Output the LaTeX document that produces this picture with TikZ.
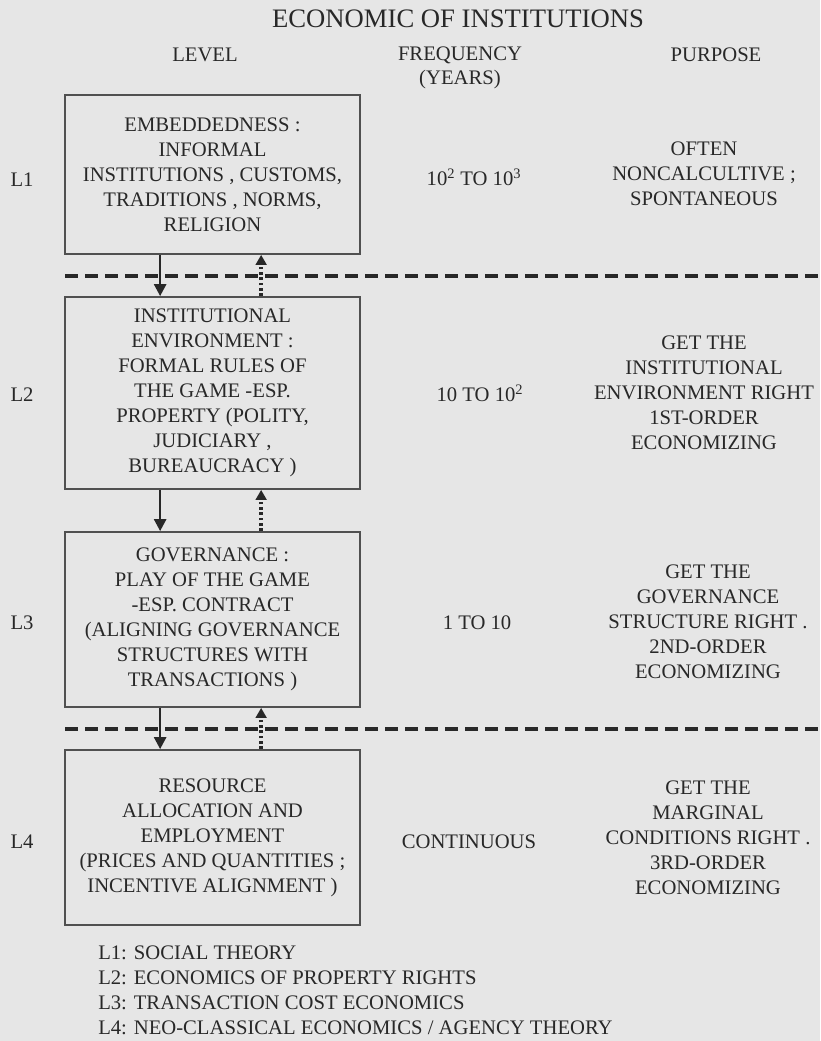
\documentclass[tikz,border=0pt]{standalone}
\usepackage{fontspec}
\setmainfont{Liberation Serif}
\usetikzlibrary{arrows.meta}
\definecolor{paper}{RGB}{230,230,230}
\definecolor{ink}{RGB}{40,40,40}
\definecolor{frame}{RGB}{80,80,80}
\begin{document}
\begin{tikzpicture}[x=0.75pt,y=-0.75pt,
  txt/.style={text=ink,inner sep=0pt,align=center,font=\fontsize{15.5pt}{18.75pt}\selectfont},
  levelbox/.style={txt,draw=frame,line width=1.3pt,minimum width=221.25pt},
  divider/.style={draw=ink,line width=2.3pt,dash pattern=on 10pt off 5pt},
  downarrow/.style={draw=ink,line width=1.9pt,-{Triangle[length=9pt,width=9pt]}},
  uparrow/.style={draw=ink,line width=2.5pt,dash pattern=on 2pt off 2pt,-{Triangle[length=7.5pt,width=8pt]}}]
% page
\fill[paper] (0,0) rectangle (820,1041);
\useasboundingbox (0,0) rectangle (820,1041);

% title and column headings
\node[txt,font=\fontsize{20pt}{24pt}\selectfont] (title) at (458,19) {ECONOMIC OF INSTITUTIONS};
\node[txt] (hlevel) at (205,55) {LEVEL};
\node[txt] (hfreq) at (460,55) {FREQUENCY};
\node[txt] (hyears) at (460,80) {(YEARS)};
\node[txt] (hpurp) at (716,55) {PURPOSE};

% the four levels
\node[levelbox,minimum height=119.25pt] (b1) at (212.5,174.5)
  {EMBEDDEDNESS :\\INFORMAL\\INSTITUTIONS , CUSTOMS,\\TRADITIONS , NORMS,\\RELIGION};
\node[levelbox,minimum height=144pt] (b2) at (212.5,393)
  {INSTITUTIONAL\\ENVIRONMENT :\\FORMAL RULES OF\\THE GAME -ESP.\\PROPERTY (POLITY,\\JUDICIARY ,\\BUREAUCRACY )};
\node[levelbox,minimum height=131.25pt] (b3) at (212.5,619.5)
  {GOVERNANCE :\\PLAY OF THE GAME\\-ESP. CONTRACT\\(ALIGNING GOVERNANCE\\STRUCTURES WITH\\TRANSACTIONS )};
\node[levelbox,minimum height=131.25pt] (b4) at (212.5,837.5)
  {RESOURCE\\ALLOCATION AND\\EMPLOYMENT\\(PRICES AND QUANTITIES ;\\INCENTIVE ALIGNMENT )};

% level labels
\node[txt] (l1) at (22,180) {L1};
\node[txt] (l2) at (22,395) {L2};
\node[txt] (l3) at (22,623) {L3};
\node[txt] (l4) at (22,842) {L4};

% frequency column
\node[txt] (f1) at (474,177) {10\textsuperscript{2} TO 10\textsuperscript{3}};
\node[txt] (f2) at (480,393) {10 TO 10\textsuperscript{2}};
\node[txt] (f3) at (477,623) {1 TO 10};
\node[txt] (f4) at (469,842) {CONTINUOUS};

% purpose column
\node[txt] (p1) at (704,174) {OFTEN\\NONCALCULTIVE ;\\SPONTANEOUS};
\node[txt] (p2) at (704,393) {GET THE\\INSTITUTIONAL\\ENVIRONMENT RIGHT\\1ST-ORDER\\ECONOMIZING};
\node[txt] (p3) at (708,622) {GET THE\\GOVERNANCE\\STRUCTURE RIGHT .\\2ND-ORDER\\ECONOMIZING};
\node[txt] (p4) at (708,838) {GET THE\\MARGINAL\\CONDITIONS RIGHT .\\3RD-ORDER\\ECONOMIZING};

% dashed separators
\coordinate (d1s) at (65,276);
\coordinate (d1e) at (820,276);
\coordinate (d2s) at (65,729);
\coordinate (d2e) at (820,729);
\draw[divider] (d1s) -- (d1e);
\draw[divider] (d2s) -- (d2e);

% constraints downwards, feedback upwards
\foreach \a/\b in {b1/b2,b2/b3,b3/b4}{
  \draw[downarrow] ([xshift=72pt]\a.south west) -- ([xshift=72pt]\b.north west);
  \draw[uparrow] ([xshift=147.75pt]\b.north west) -- ([xshift=147.75pt]\a.south west);
}

% legend
\node[txt,align=left,anchor=west] (legend) at (98,990.5)
  {L1: SOCIAL THEORY\\L2: ECONOMICS OF PROPERTY RIGHTS\\L3: TRANSACTION COST ECONOMICS\\L4: NEO-CLASSICAL ECONOMICS / AGENCY THEORY};
\end{tikzpicture}
\end{document}
